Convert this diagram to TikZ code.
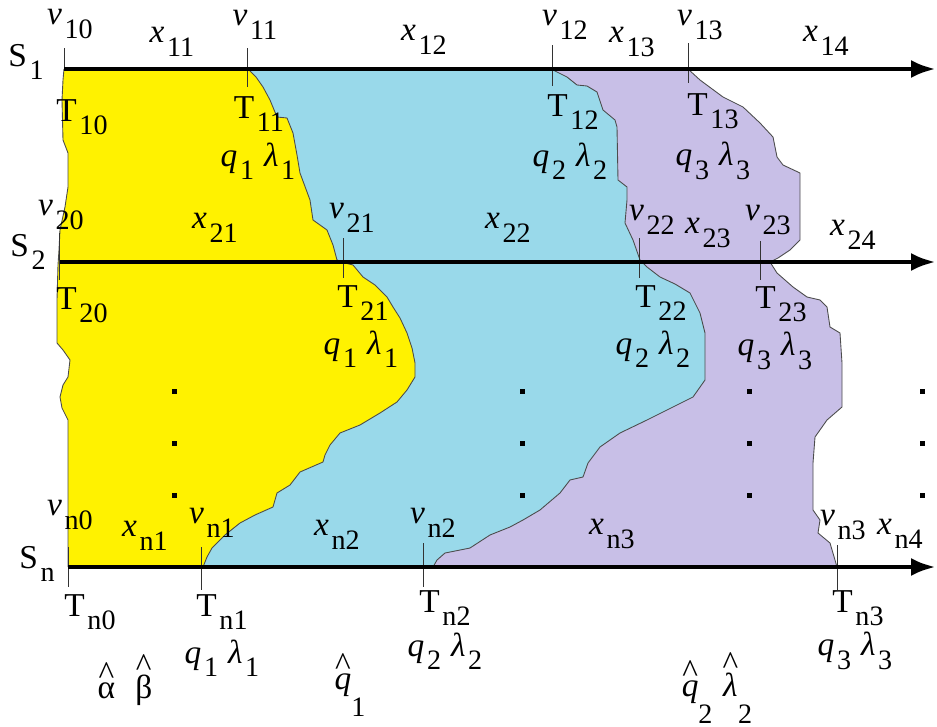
\documentclass[tikz,border=0pt]{standalone}
\usepackage{fontspec}
\setmainfont{Liberation Serif}
\usetikzlibrary{arrows.meta}
\definecolor{cYellow}{RGB}{255,242,0}
\definecolor{cBlue}{RGB}{153,217,234}
\definecolor{cLilac}{RGB}{200,191,231}
\newcommand{\lowr}[1]{\raisebox{-0.4em}{\fontsize{16}{16}\selectfont #1}}
\newcommand{\lab}[2]{#1\kern1.5pt\lowr{#2}}
\newcommand{\hatx}[1]{\shortstack{\^{}\\[-4pt]#1}}
\newcommand{\deep}[1]{\raisebox{-0.8em}{\fontsize{16}{16}\selectfont #1}}
% region boundaries, from top to bottom
\newcommand{\edgeYB}{-- (256,77) -- (263,87) -- (270,100) -- (277,117) -- (287,118) -- (293,133) -- (297,155) -- (300,173) -- (310,200) -- (313,220) -- (327,230) -- (333,245) -- (337,260) -- (345,263) -- (353,265) -- (363,277) -- (375,285) -- (387,297) -- (393,307) -- (400,318) -- (407,333) -- (412,348) -- (415,363) -- (415,377) -- (407,390) -- (397,402) -- (380,413) -- (360,425) -- (340,433) -- (330,445) -- (325,455) -- (323,462) -- (300,472) -- (290,485) -- (277,493) -- (273,507) -- (255,515) -- (240,523) -- (225,535) -- (212,548) -- (207,557) -- (203,567)}
\newcommand{\edgeBP}{-- (557,72) -- (567,77) -- (577,85) -- (587,86) -- (597,92) -- (603,110) -- (615,120) -- (617,127) -- (618,180) -- (627,187) -- (627,200) -- (625,223) -- (633,240) -- (640,260) -- (647,267) -- (660,277) -- (675,284) -- (690,293) -- (700,313) -- (705,333) -- (705,380) -- (693,397) -- (673,407) -- (647,420) -- (620,433) -- (600,447) -- (588,463) -- (583,477) -- (570,480) -- (560,493) -- (540,510) -- (523,520) -- (510,527) -- (490,535) -- (470,548) -- (445,553) -- (437,560) -- (433,567)}
\newcommand{\edgePW}{-- (700,80) -- (723,97) -- (743,107) -- (760,123) -- (773,137) -- (777,157) -- (783,165) -- (800,173) -- (800,240) -- (790,250) -- (778,258) -- (770,262) -- (777,273) -- (793,287) -- (807,297) -- (820,300) -- (827,307) -- (830,327) -- (840,333) -- (842,363) -- (842,407) -- (827,420) -- (815,437) -- (813,463) -- (813,510) -- (820,520) -- (818,533) -- (830,543) -- (835,560) -- (837,567)}
% left edge, from bottom to top
\newcommand{\edgeL}{-- (68,543) -- (68,420) -- (62,408) -- (60,397) -- (63,385) -- (68,377) -- (70,360) -- (63,350) -- (57,343) -- (57,300) -- (58,265) -- (59,250) -- (60,230) -- (65,207) -- (68,187) -- (68,153) -- (63,140) -- (62,100) -- (63,80) -- (64,69)}
\tikzset{
	lbl/.style={font=\fontsize{19}{22}\selectfont, inner sep=0pt},
	stream/.style={-{Latex[length=5mm,width=3.6mm]}, line width=2.8pt},
	tick/.style={line width=0.5pt, black!80},
	edge/.style={line width=0.5pt, black!70},
}
\begin{document}
\begin{tikzpicture}[x=0.02cm, y=-0.02cm]
	\useasboundingbox (0,0) rectangle (937,727);
	\fill[cLilac] (300,69) -- (688,69) \edgePW -- (300,567) -- cycle;
	\fill[cBlue] (200,69) -- (551,69) \edgeBP -- (200,567) -- cycle;
	\fill[cYellow] (248,69) \edgeYB -- (68,567) \edgeL -- cycle;
	\draw[edge] (248,69) \edgeYB;
	\draw[edge] (551,69) \edgeBP;
	\draw[edge] (688,69) \edgePW;
	\draw[edge] (68,567) \edgeL;
	\foreach \tx/\ta/\tb in {64/48/69, 247/48/87, 552/45/86, 688/43/83, 59/233/280, 343/238/278, 639/238/278, 760/241/280, 68/547/587, 201/547/590, 423/543/587, 837/545/590}
		\draw[tick] (\tx,\ta) -- (\tx,\tb);
	\foreach \dx in {174,522,749,922}
		\foreach \dy in {391,443,495}
			\fill (\dx-2.5,\dy-2.5) rectangle ++(5,5);
	\coordinate (s1a) at (64,69);
	\coordinate (s1b) at (936,69);
	\coordinate (s2a) at (60,262);
	\coordinate (s2b) at (936,262);
	\coordinate (sna) at (68,567);
	\coordinate (snb) at (936,567);
	\draw[stream] (s1a) -- (s1b);
	\draw[stream] (s2a) -- (s2b);
	\draw[stream] (sna) -- (snb);
	% stream names
	\node[lbl] (S1) at (26,62) {\lab{S}{1}};
	\node[lbl] (S2) at (28,252) {\lab{S}{2}};
	\node[lbl] (Sn) at (37,564) {\lab{S}{n}};
	% first stream
	\node[lbl] (v10) at (70,24) {\lab{\textit{v}}{10}};
	\node[lbl] (x11) at (172,42) {\lab{\textit{x}}{11}};
	\node[lbl] (v11) at (255,25) {\lab{\textit{v}}{11}};
	\node[lbl] (x12) at (424,40) {\lab{\textit{x}}{12}};
	\node[lbl] (v12) at (565,25) {\lab{\textit{v}}{12}};
	\node[lbl] (x13) at (632,42) {\lab{\textit{x}}{13}};
	\node[lbl] (v13) at (700,25) {\lab{\textit{v}}{13}};
	\node[lbl] (x14) at (826,41) {\lab{\textit{x}}{14}};
	\node[lbl] (T10) at (82,117) {\lab{T}{10}};
	\node[lbl] (T11) at (259,114) {\lab{T}{11}};
	\node[lbl] (T12) at (573,112) {\lab{T}{12}};
	\node[lbl] (T13) at (713,111) {\lab{T}{13}};
	\node[lbl] (p11) at (258,161) {\lab{\textit{q}}{1}\hspace{0.3em}\lab{\textit{λ}}{1}};
	\node[lbl] (p12) at (570,161) {\lab{\textit{q}}{2}\hspace{0.3em}\lab{\textit{λ}}{2}};
	\node[lbl] (p13) at (713,161) {\lab{\textit{q}}{3}\hspace{0.3em}\lab{\textit{λ}}{3}};
	% second stream
	\node[lbl] (v20) at (61,215) {\lab{\textit{v}}{20}};
	\node[lbl] (x21) at (215,228) {\lab{\textit{x}}{21}};
	\node[lbl] (v21) at (352,218) {\lab{\textit{v}}{21}};
	\node[lbl] (x22) at (508,228) {\lab{\textit{x}}{22}};
	\node[lbl] (v22) at (652,220) {\lab{\textit{v}}{22}};
	\node[lbl] (x23) at (708,233) {\lab{\textit{x}}{23}};
	\node[lbl] (v23) at (768,220) {\lab{\textit{v}}{23}};
	\node[lbl] (x24) at (853,235) {\lab{\textit{x}}{24}};
	\node[lbl] (T20) at (82,305) {\lab{T}{20}};
	\node[lbl] (T21) at (363,303) {\lab{T}{21}};
	\node[lbl] (T22) at (661,303) {\lab{T}{22}};
	\node[lbl] (T23) at (781,304) {\lab{T}{23}};
	\node[lbl] (p21) at (361,349) {\lab{\textit{q}}{1}\hspace{0.3em}\lab{\textit{λ}}{1}};
	\node[lbl] (p22) at (653,349) {\lab{\textit{q}}{2}\hspace{0.3em}\lab{\textit{λ}}{2}};
	\node[lbl] (p23) at (775,351) {\lab{\textit{q}}{3}\hspace{0.3em}\lab{\textit{λ}}{3}};
	% last stream
	\node[lbl] (vn0) at (70,515) {\lab{\textit{v}}{n0}};
	\node[lbl] (xn1) at (145,536) {\lab{\textit{x}}{n1}};
	\node[lbl] (vn1) at (212,523) {\lab{\textit{v}}{n1}};
	\node[lbl] (xn2) at (337,535) {\lab{\textit{x}}{n2}};
	\node[lbl] (vn2) at (433,523) {\lab{\textit{v}}{n2}};
	\node[lbl] (xn3) at (612,534) {\lab{\textit{x}}{n3}};
	\node[lbl] (vn3) at (843,525) {\lab{\textit{v}}{n3}};
	\node[lbl] (xn4) at (900,534) {\lab{\textit{x}}{n4}};
	\node[lbl] (Tn0) at (90,612) {\lab{T}{n0}};
	\node[lbl] (Tn1) at (222,612) {\lab{T}{n1}};
	\node[lbl] (Tn2) at (445,608) {\lab{T}{n2}};
	\node[lbl] (Tn3) at (858,608) {\lab{T}{n3}};
	\node[lbl] (pn1) at (222,658) {\lab{\textit{q}}{1}\hspace{0.3em}\lab{\textit{λ}}{1}};
	\node[lbl] (pn2) at (445,651) {\lab{\textit{q}}{2}\hspace{0.3em}\lab{\textit{λ}}{2}};
	\node[lbl] (pn3) at (855,651) {\lab{\textit{q}}{3}\hspace{0.3em}\lab{\textit{λ}}{3}};
	% estimates
	\node[lbl] (ab) at (125,680) {\hatx{α}\hspace{0.6em}\hatx{β}};
	\node[lbl] (qh1) at (350,685) {\hatx{\textit{q}}\deep{1}};
	\node[lbl] (qh2) at (717,688) {\hatx{\textit{q}}\deep{2}\hspace{0.3em}\hatx{\textit{λ}}\deep{2}};
\end{tikzpicture}
\end{document}
